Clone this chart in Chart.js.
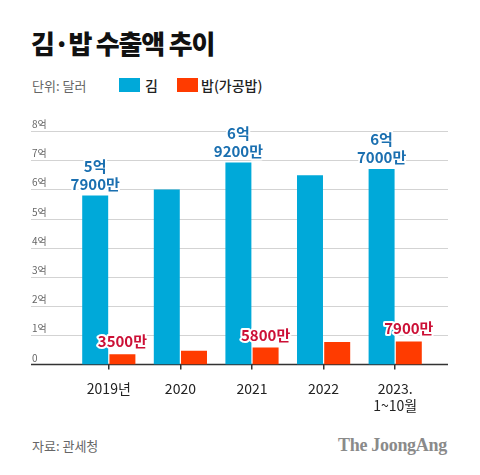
<!DOCTYPE html>
<html>
<head>
<meta charset="utf-8">
<script src="https://cdn.jsdelivr.net/npm/chart.js@4.4.0/dist/chart.umd.min.js"></script>
<style>
  html, body { margin: 0; padding: 0; background: #fff; }
  body { width: 480px; height: 475px; position: relative; overflow: hidden;
         font-family: "Noto Sans CJK KR", "Noto Sans", sans-serif; }
  .abs { position: absolute; white-space: nowrap; }
  #title { left: 31px; top: 29px; font-size: 26px; line-height: 27px; font-weight: 900; color: #111; letter-spacing: -1.2px; }
  #unit { left: 32px; top: 78px; font-size: 13px; line-height: 16px; color: #666; }
  .sw { position: absolute; width: 21px; height: 14px; top: 78px; }
  .lg { top: 77px; font-size: 14px; line-height: 16px; color: #222; font-weight: 500; }
  #src { left: 32px; top: 438px; font-size: 13px; line-height: 16px; color: #666; }
  #logo { left: 338px; top: 434px; font-family: "Liberation Serif", serif; font-weight: bold; font-size: 18px; line-height: 22px; color: #8a8a8a; letter-spacing: -0.3px; }
  canvas { position: absolute; left: 0; top: 0; }
</style>
</head>
<body>
<div id="title" class="abs">김·밥 수출액 추이</div>
<div id="unit" class="abs">단위: 달러</div>
<div id="sw0" class="sw" style="left:119px"></div>
<div class="abs lg" style="left:145px">김</div>
<div id="sw1" class="sw" style="left:177px"></div>
<div class="abs lg" style="left:201px">밥(가공밥)</div>
<div id="src" class="abs">자료: 관세청</div>
<div id="logo" class="abs">The JoongAng</div>
<canvas id="c" width="480" height="475"></canvas>
<script>
// 단위: 억 달러
const years = ["2019년", "2020", "2021", "2022", ["2023.", "1~10월"]];
const kim = [5.79, 6.00, 6.92, 6.48, 6.70];
const bap = [0.35, 0.47, 0.58, 0.77, 0.79];
const kimLabels = ["5억\n7900만", "", "6억\n9200만", "", "6억\n7000만"];
const bapLabels = ["3500만", "", "5800만", "", "7900만"];
const yTicks = [0, 1, 2, 3, 4, 5, 6, 7, 8];
const yTickLabels = ["0", "1억", "2억", "3억", "4억", "5억", "6억", "7억", "8억"];

const BLUE = "#00a9d9";
const RED = "#ff3b00";
document.getElementById("sw0").style.background = BLUE;
document.getElementById("sw1").style.background = RED;

const KFONT = '"Noto Sans CJK KR", "Noto Sans", sans-serif';

// 격자선과 y축 글자는 차트 영역보다 넓게 그림
const gridPlugin = {
  id: "grid",
  beforeDatasetsDraw(chart) {
    const ctx = chart.ctx, y = chart.scales.y;
    const x0 = 31, x1 = 448;
    ctx.save();
    yTicks.forEach((v, i) => {
      const py = Math.round(y.getPixelForValue(v)) + 0.5;
      if (v > 0) {
        ctx.strokeStyle = "#d3d3d3";
        ctx.lineWidth = 1;
        ctx.beginPath(); ctx.moveTo(x0, py); ctx.lineTo(x1, py); ctx.stroke();
      }
      ctx.fillStyle = "#666";
      ctx.font = "10px " + KFONT;
      ctx.textBaseline = "alphabetic";
      ctx.textAlign = "left";
      ctx.fillText(yTickLabels[i], 32, py - 4);
    });
    const p0 = y.getPixelForValue(0);
    ctx.strokeStyle = "#333";
    ctx.lineWidth = 1.5;
    ctx.beginPath(); ctx.moveTo(x0, p0); ctx.lineTo(x1, p0); ctx.stroke();
    ctx.restore();
  },
  afterDatasetsDraw(chart) {
    const ctx = chart.ctx;
    ctx.save();
    ctx.font = "bold 15px " + KFONT;
    ctx.textAlign = "center";
    ctx.textBaseline = "alphabetic";
    ctx.lineJoin = "round";
    ctx.strokeStyle = "#fff";
    ctx.lineWidth = 4;
    const drawLbl = (bar, text, color, gap) => {
      if (!text) return;
      const lines = text.split("\n");
      lines.forEach((t, k) => {
        const by = bar.y - gap - (lines.length - 1 - k) * 18;
        ctx.strokeText(t, bar.x, by);
        ctx.fillStyle = color;
        ctx.fillText(t, bar.x, by);
      });
    };
    chart.getDatasetMeta(0).data.forEach((b, i) => drawLbl(b, kimLabels[i], "#1a6fb0", 6));
    chart.getDatasetMeta(1).data.forEach((b, i) => drawLbl(b, bapLabels[i], "#cc1036", 7));
    ctx.restore();
  }
};

new Chart(document.getElementById("c"), {
  type: "bar",
  data: {
    labels: years,
    datasets: [
      { label: "김", data: kim, backgroundColor: BLUE },
      { label: "밥(가공밥)", data: bap, backgroundColor: RED }
    ]
  },
  options: {
    responsive: false,
    animation: false,
    layout: { padding: { left: 73, right: 49, top: 131, bottom: 50.5 } },
    datasets: { bar: { categoryPercentage: 0.76, barPercentage: 0.955 } },
    plugins: { legend: { display: false }, tooltip: { enabled: false } },
    scales: {
      x: {
        border: { display: false },
        grid: { offset: false, drawOnChartArea: false, drawTicks: true, tickLength: 5, color: "#333", lineWidth: 1.5 },
        ticks: { color: "#222", padding: 10, font: { family: KFONT, size: 14, lineHeight: 1.25 } }
      },
      y: {
        display: false,
        min: 0,
        max: 8
      }
    }
  },
  plugins: [gridPlugin]
});
</script>
</body>
</html>
